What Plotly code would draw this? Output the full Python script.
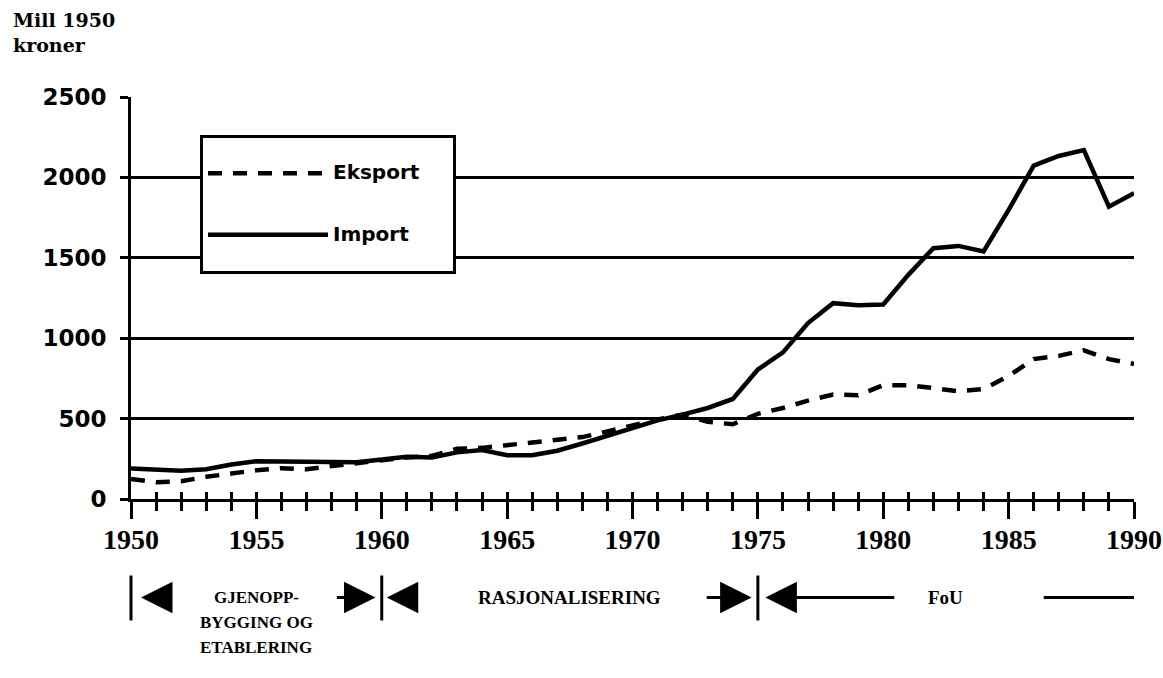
import plotly.graph_objects as go

# ---- data ----
years = list(range(1950, 1991))
eksport = [125, 104, 110, 138, 158, 179, 192, 185, 205, 222,
           245, 258, 268, 312, 318, 335, 352, 372, 385, 420,
           460, 495, 525, 480, 465, 530, 566, 612, 650, 645,
           708, 708, 690, 670, 684, 765, 870, 890, 925, 870,
           840]
importv = [190, 180, 175, 185, 215, 235, 235, 232, 230, 228,
           245, 262, 258, 290, 305, 272, 272, 300, 345, 394,
           442, 489, 525, 566, 622, 805, 912, 1094, 1218, 1205,
           1210, 1394, 1560, 1574, 1539, 1798, 2073, 2133, 2170, 1818,
           1901]
series_names = ["Eksport", "Import"]
y_ticks = [0, 500, 1000, 1500, 2000, 2500]
x_ticks = [1950, 1955, 1960, 1965, 1970, 1975, 1980, 1985, 1990]
period_bounds = [1950, 1960, 1975, 1990]
period_labels = [["GJENOPP-", "BYGGING OG", "ETABLERING"], ["RASJONALISERING"], ["FoU"]]
unit_label = ["Mill 1950", "kroner"]

SERIF = "Liberation Serif"
SANS = "DejaVu Sans"
X0, X1 = period_bounds[0], period_bounds[-1]


def legend_name(s):
    return (" <br><span style='font-size:20px'>" + s +
            "&nbsp;&nbsp;&nbsp;&nbsp;</span><br> ")


fig = go.Figure()
fig.add_trace(go.Scatter(
    x=years, y=eksport, mode="lines", name=legend_name(series_names[0]),
    line=dict(color="black", width=4.5, dash="14px,11px"), hoverinfo="skip"))
fig.add_trace(go.Scatter(
    x=years, y=importv, mode="lines", name=legend_name(series_names[1]),
    line=dict(color="black", width=4.5), hoverinfo="skip"))
# carrier for the overlaid axis that draws the upper halves of the ticks
fig.add_trace(go.Scatter(x=[], y=[], xaxis="x2", showlegend=False, hoverinfo="skip"))

fig.update_layout(
    width=1163, height=678,
    margin=dict(l=131, r=29, t=97, b=179, autoexpand=False),
    paper_bgcolor="white", plot_bgcolor="white",
    showlegend=True,
    legend=dict(
        x=(200 - 131) / 1003, y=(499.5 - 135) / 402, xanchor="left", yanchor="top",
        bgcolor="white", bordercolor="black", borderwidth=3,
        font=dict(family=SANS, size=15, color="black", weight="bold"),
        itemwidth=120, valign="middle", tracegroupgap=0,
    ),
    xaxis=dict(
        range=[X0, X1], tickvals=x_ticks, ticktext=[str(v) for v in x_ticks],
        ticks="outside", ticklen=17, tickwidth=3, tickcolor="black",
        minor=dict(ticks="outside", ticklen=9, tickwidth=3, dtick=1, tick0=X0,
                   tickcolor="black", showgrid=False),
        showline=True, linewidth=3, linecolor="black", showgrid=False, zeroline=False,
        tickfont=dict(family=SERIF, size=28, color="black", weight="bold"),
        ticklabelstandoff=-4, automargin=False,
    ),
    xaxis2=dict(
        range=[X0, X1], overlaying="x", anchor="y", side="bottom",
        ticks="inside", ticklen=7, tickwidth=3, tickcolor="black",
        tickmode="linear", dtick=1, tick0=X0,
        showticklabels=False, showgrid=False, showline=False, zeroline=False,
        automargin=False,
    ),
    yaxis=dict(
        range=[0, 2500], tickvals=y_ticks,
        ticks="outside", ticklen=8, tickwidth=3, tickcolor="black",
        showline=True, linewidth=3, linecolor="black",
        showgrid=True, gridwidth=3, gridcolor="black", zeroline=False,
        tickfont=dict(family=SANS, size=23, color="black", weight="bold"),
        ticklabelstandoff=9, automargin=False,
    ),
)


def py(pix):  # pixel row -> paper y
    return (499.5 - pix) / 402


def px(year):  # year -> paper x
    return (year - X0) / (X1 - X0)


# unit label (two lines)
for i, line in enumerate(unit_label):
    fig.add_annotation(text="<b>" + line + "</b>", xref="paper", yref="paper",
                       x=(11 - 131) / 1003, y=py(21 + 25 * i), xanchor="left", yanchor="middle",
                       showarrow=False, font=dict(family="DejaVu Serif", size=19, color="black"))

# period brackets below the axis
row_y = py(598)
for b in period_bounds[:-1]:
    fig.add_shape(type="line", xref="paper", yref="paper", x0=px(b), x1=px(b),
                  y0=py(576), y1=py(621), line=dict(color="black", width=3))

arrow_specs = [  # (head, tail) in years
    (period_bounds[0] + 0.4, period_bounds[0] + 1.25),
    (period_bounds[1] - 0.25, period_bounds[1] - 1.85),
    (period_bounds[1] + 0.2, period_bounds[1] + 1.15),
    (period_bounds[2] - 0.25, period_bounds[2] - 2.1),
    (period_bounds[2] + 0.3, period_bounds[2] + 5.5),
]
for head, tail in arrow_specs:
    fig.add_annotation(x=head, y=row_y, xref="x", yref="paper", text="",
                       showarrow=True, ax=tail, ay=0, axref="x", ayref="pixel",
                       arrowhead=2, arrowsize=2.1, arrowwidth=3, arrowcolor="black",
                       standoff=0, startstandoff=0)
fig.add_shape(type="line", xref="paper", yref="paper", x0=px(period_bounds[3] - 3.6),
              x1=px(period_bounds[3]), y0=row_y, y1=row_y, line=dict(color="black", width=3))

label_sizes = [17, 19, 19]
for i, lines in enumerate(period_labels):
    mid = (period_bounds[i] + period_bounds[i + 1]) / 2
    for j, line in enumerate(lines):
        fig.add_annotation(text="<b>" + line + "</b>", x=mid, y=py(598 + 25 * j),
                           xref="x", yref="paper", xanchor="center", yanchor="middle",
                           showarrow=False,
                           font=dict(family=SERIF, size=label_sizes[i], color="black"))

fig.write_html("out.html", config={"displayModeBar": False},
               post_script="document.body.style.margin='0';")
